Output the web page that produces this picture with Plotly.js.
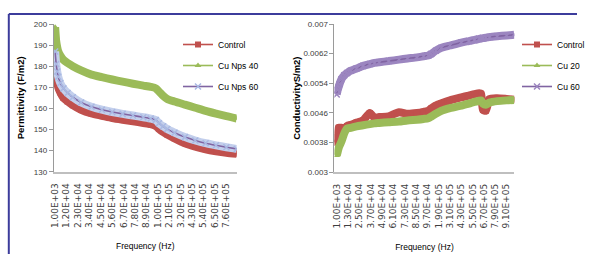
<!DOCTYPE html>
<html>
<head>
<meta charset="utf-8">
<script src="https://cdn.plot.ly/plotly-3.0.1.min.js"></script>
<style>html,body{margin:0;padding:0;background:#fff;}#chart{width:590px;height:254px;}</style>
</head>
<body>
<div id="chart"></div>
<script>
// ---- category grid (frequency, Hz) ----
const lowFreq = [];  for (let f = 1000; f <= 100000; f += 1000) lowFreq.push(f);
const highFreq = []; for (let f = 110000; f <= 1000000; f += 10000) highFreq.push(f);
const allFreq = lowFreq.concat(highFreq);
const leftCategoryCount = 176;
const rightCategoryCount = 189;

// ---- tick labels ----
const leftTickLabels = ['1.00E+03','1.20E+04','2.30E+04','3.40E+04','4.50E+04','5.60E+04','6.70E+04','7.80E+04',
  '8.90E+04','1.00E+05','2.10E+05','3.20E+05','4.30E+05','5.40E+05','6.50E+05','7.60E+05'];
const rightTickLabels = ['1.00E+03','1.30E+04','2.50E+04','3.70E+04','4.90E+04','6.10E+04','7.30E+04','8.50E+04',
  '9.70E+04','1.90E+05','3.10E+05','4.30E+05','5.50E+05','6.70E+05','7.90E+05','9.10E+05'];

// ---- permittivity (left) ----
const permFreq = [1000,2000,3000,4000,6000,9000,13000,18000,26000,36000,46000,56000,66000,76000,86000,93000,98000,
  110000,150000,190000,260000,360000,460000,560000,660000,760000,860000];
const permControl = [182,176,172.5,170,167.5,165,163.3,161.5,159.3,157.6,156.5,155.4,154.6,153.9,153.1,152.5,151.6,
  150.3,148.8,147.6,145.8,143.5,141.9,140.6,139.7,139,138.5];
const permCuNps40 = [198.5,192,189,187,185,183,181.5,180,178,176,174.8,173.7,172.7,171.7,170.8,170.2,169.5,
  168,166,164.5,163.3,161.8,160.3,158.8,157.5,156.3,155.2];
const permCuNps60 = [187,181,177.5,175,172,169.5,167.3,165.3,162.8,160.8,159.4,158.3,157.4,156.6,155.8,155.2,154.5,
  153,151.5,150.2,148.5,146.4,144.8,143.5,142.5,141.6,140.8];

// ---- conductivity (right) ----
const condFreq = [1000,2000,3000,4000,6000,9000,12000,16000,22000,29000,36000,41000,46000,56000,67000,76000,86000,93000,98000,
  110000,160000,220000,310000,430000,510000,570000,620000,640000,660000,690000,730000,810000,910000,990000];
const condControl = [0.0038,0.00395,0.0042,0.0042,0.0042,0.00418,0.00425,0.00428,0.00434,0.0044,0.0046,0.00447,0.00449,0.00451,
  0.00462,0.00458,0.0046,0.00463,0.00466,0.00472,0.0048,0.00486,0.00494,0.00502,0.00507,0.00511,0.00513,0.00512,0.00468,
  0.00466,0.00498,0.005,0.00498,0.00496];
const condCu20 = [0.00345,0.00355,0.00365,0.00372,0.00383,0.00405,0.00418,0.0042,0.00424,0.00427,0.0043,0.00432,0.00433,0.00435,
  0.00437,0.0044,0.00442,0.00444,0.00446,0.0045,0.00458,0.00466,0.00473,0.0048,0.00485,0.0049,0.00493,0.00494,0.00485,
  0.00482,0.00488,0.00492,0.00494,0.00495];
const condCu60 = [0.0051,0.00522,0.0053,0.00538,0.00551,0.00562,0.00568,0.00574,0.0058,0.00587,0.00592,0.00595,0.00597,0.006,
  0.00604,0.00607,0.0061,0.00613,0.00615,0.00619,0.00628,0.00636,0.00642,0.0065,0.00654,0.00657,0.0066,0.00661,0.00662,
  0.00663,0.00665,0.00667,0.00669,0.00671];

function fmt(f) {
  const parts = f.toExponential(2).split('e');
  const e = parseInt(parts[1], 10);
  return parts[0] + 'E' + (e < 0 ? '-' : '+') + String(Math.abs(e)).padStart(2, '0');
}

const RED = '#C0504D', GREEN = '#9BBB59', PURPLE = '#8064A2', LIGHTBLUE = '#C3CFEC', LBX = '#A9B9E3', LPURPLE = '#9C86C0';
const FONT = 'Liberation Sans, Arial, sans-serif';

function band(x, y, color, xa, ya, w) {
  return {x: x.map(fmt), y: y, xaxis: xa, yaxis: ya, mode: 'lines', showlegend: false, hoverinfo: 'skip',
    line: {color: color, width: w, shape: 'spline', smoothing: 0.6}};
}
function series(name, x, y, lineColor, sym, mColor, xa, ya, legend) {
  return {name: name, x: x.map(fmt), y: y, xaxis: xa, yaxis: ya, mode: 'lines+markers', legend: legend, legendgroup: name + xa,
    line: {color: lineColor, width: 1.6, shape: 'spline', smoothing: 0.6},
    marker: {symbol: sym, color: mColor, size: 6, line: {color: mColor, width: sym === 'x-thin' ? 1.5 : 0}}};
}

const traces = [
  band(permFreq, permControl, RED, 'x', 'y', 8),
  series('Control', permFreq, permControl, RED, 'square', RED, 'x', 'y', 'legend'),
  band(permFreq, permCuNps40, GREEN, 'x', 'y', 8),
  series('Cu Nps 40', permFreq, permCuNps40, GREEN, 'triangle-up', GREEN, 'x', 'y', 'legend'),
  band(permFreq, permCuNps60, LIGHTBLUE, 'x', 'y', 8),
  series('Cu Nps 60', permFreq, permCuNps60, PURPLE, 'x-thin', LBX, 'x', 'y', 'legend'),

  band(condFreq, condControl, RED, 'x2', 'y2', 8),
  series('Control', condFreq, condControl, RED, 'square', RED, 'x2', 'y2', 'legend2'),
  band(condFreq, condCu20, GREEN, 'x2', 'y2', 8),
  series('Cu 20', condFreq, condCu20, GREEN, 'triangle-up', GREEN, 'x2', 'y2', 'legend2'),
  band(condFreq, condCu60, LPURPLE, 'x2', 'y2', 8),
  series('Cu 60', condFreq, condCu60, PURPLE, 'x-thin', LPURPLE, 'x2', 'y2', 'legend2')
];

const W = 590, H = 254;
const tickFont = {family: FONT, size: 8, color: '#404040'};
function xaxis(cats, labels, range, domain, anchor) {
  return {type: 'category', categoryorder: 'array', categoryarray: cats.map(fmt), range: range, domain: domain, anchor: anchor,
    tickmode: 'array', tickvals: labels, ticktext: labels, tickangle: -90,
    tickfont: {family: 'DejaVu Sans, sans-serif', size: 9, color: '#404040'}, ticklabelstandoff: 6,
    showline: true, linecolor: '#BFBFBF', linewidth: 2, ticks: '', showgrid: false, zeroline: false, fixedrange: true,
    title: {text: 'Frequency (Hz)', font: {family: FONT, size: 8.5, color: '#000'}, standoff: 16}};
}
function yaxis(range, tick0, dtick, domain, anchor, title, standoff) {
  return {range: range, tick0: tick0, dtick: dtick, domain: domain, anchor: anchor, tickfont: tickFont,
    showline: true, linecolor: '#9A9A9A', linewidth: 1, ticks: 'outside', ticklen: 4, tickcolor: '#9A9A9A',
    showgrid: false, zeroline: false, fixedrange: true,
    title: {text: title, font: {family: FONT, size: 9.5, color: '#000', weight: 'bold'}, standoff: standoff}};
}

const layout = {
  width: W, height: H, margin: {l: 0, r: 0, t: 0, b: 0}, paper_bgcolor: '#fff', plot_bgcolor: 'rgba(0,0,0,0)',
  showlegend: true,
  xaxis: xaxis(allFreq.slice(0, leftCategoryCount), leftTickLabels, [-1.3, 174.9], [55/W, 242/W], 'y'),
  yaxis: yaxis([130, 200], 130, 10, [1 - 171.7/H, 1 - 24/H], 'x', 'Permittivity (F/m2)', 7),
  xaxis2: xaxis(allFreq.slice(0, rightCategoryCount), rightTickLabels, [-2.4, 188.3], [342/W, 526/W], 'y2'),
  yaxis2: yaxis([0.003, 0.007], 0.003, 0.0008, [1 - 172.3/H, 1 - 24/H], 'x2', 'ConductivityS/m2)', 1),
  legend: {x: 182/W, xanchor: 'left', y: 1 - 30/H, yanchor: 'top', bgcolor: 'rgba(0,0,0,0)', tracegroupgap: 2,
    font: {family: FONT, size: 8.5, color: '#000'}},
  legend2: {x: 529/W, xanchor: 'left', y: 1 - 30/H, yanchor: 'top', bgcolor: 'rgba(0,0,0,0)', tracegroupgap: 2,
    font: {family: FONT, size: 8.5, color: '#000'}},
  shapes: [
    {type: 'line', xref: 'paper', yref: 'paper', x0: 9/W, x1: 1, y0: 1 - 14/H, y1: 1 - 14/H, line: {color: '#3C3C9C', width: 2}},
    {type: 'line', xref: 'paper', yref: 'paper', x0: 9/W, x1: 9/W, y0: 0, y1: 1 - 14/H, line: {color: '#3C3C9C', width: 2}}
  ]
};

Plotly.newPlot('chart', traces, layout, {displayModeBar: false, staticPlot: true});
</script>
</body>
</html>
